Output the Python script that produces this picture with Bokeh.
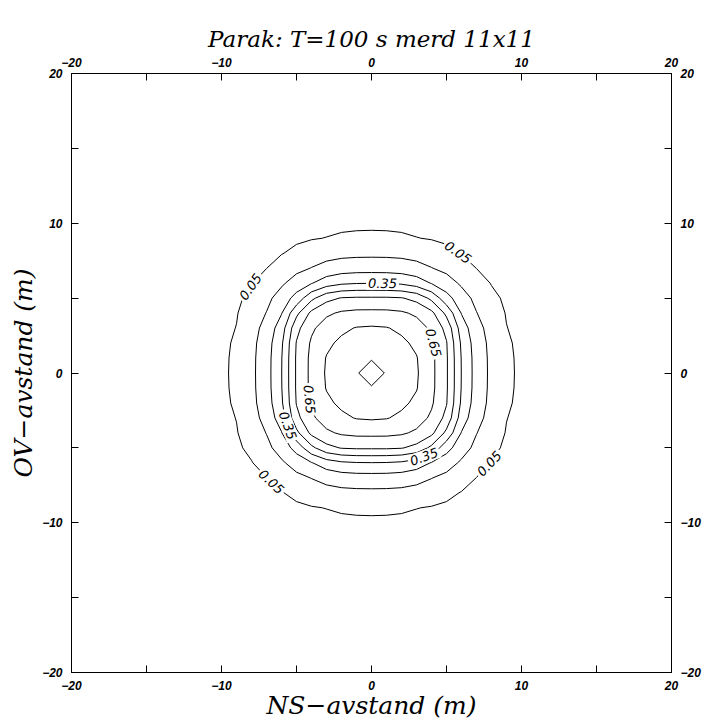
import numpy as np
from bokeh.plotting import figure
from bokeh.models import LinearAxis, FixedTicker, ColumnDataSource
from bokeh.core.properties import value
from bokeh.embed import file_html
from bokeh.resources import INLINE
from contourpy import contour_generator

# Grid coordinates (m) of the first quadrant, NS (x) and OV (y)
grid_ns = [0, 1, 2, 3, 4, 5, 6, 7, 8, 9, 10, 11, 12]
grid_ov = [0, 1, 2, 3, 4, 5, 6, 7, 8, 9, 10, 11, 12]

# Relative concentration in the first quadrant, one row per OV position;
# the field is symmetric about both axes
conc_quadrant = [
    [0.885, 0.844, 0.802, 0.761, 0.675, 0.563, 0.347, 0.210, 0.128, 0.068, 0.034, 0.010, 0.000],
    [0.844, 0.827, 0.793, 0.755, 0.674, 0.563, 0.345, 0.209, 0.127, 0.067, 0.033, 0.010, 0.000],
    [0.802, 0.793, 0.769, 0.731, 0.663, 0.556, 0.334, 0.202, 0.123, 0.062, 0.031, 0.008, 0.000],
    [0.761, 0.755, 0.731, 0.693, 0.634, 0.520, 0.302, 0.184, 0.112, 0.052, 0.028, 0.005, 0.000],
    [0.675, 0.674, 0.663, 0.634, 0.575, 0.425, 0.245, 0.153, 0.095, 0.045, 0.022, 0.000, 0.000],
    [0.563, 0.563, 0.556, 0.520, 0.425, 0.286, 0.193, 0.124, 0.070, 0.036, 0.015, 0.000, 0.000],
    [0.347, 0.345, 0.334, 0.302, 0.245, 0.193, 0.135, 0.089, 0.046, 0.026, 0.005, 0.000, 0.000],
    [0.210, 0.209, 0.202, 0.184, 0.153, 0.124, 0.089, 0.049, 0.032, 0.013, 0.000, 0.000, 0.000],
    [0.128, 0.127, 0.123, 0.112, 0.095, 0.070, 0.046, 0.032, 0.015, 0.000, 0.000, 0.000, 0.000],
    [0.068, 0.067, 0.062, 0.052, 0.045, 0.036, 0.026, 0.013, 0.000, 0.000, 0.000, 0.000, 0.000],
    [0.034, 0.033, 0.031, 0.028, 0.022, 0.015, 0.005, 0.000, 0.000, 0.000, 0.000, 0.000, 0.000],
    [0.010, 0.010, 0.008, 0.005, 0.000, 0.000, 0.000, 0.000, 0.000, 0.000, 0.000, 0.000, 0.000],
    [0.000, 0.000, 0.000, 0.000, 0.000, 0.000, 0.000, 0.000, 0.000, 0.000, 0.000, 0.000, 0.000],
]

levels = [0.05, 0.15, 0.25, 0.35, 0.45, 0.55, 0.65, 0.75, 0.85]
labelled_levels = [0.05, 0.05, 0.35, 0.65, 0.65, 0.35, 0.35, 0.05, 0.05]

axis_ticks = [-20, -10, 0, 10, 20]
axis_minor_ticks = [-15, -5, 5, 15]

# Where each contour label sits: bearing (deg) from the centre, measured on screen
label_bearing = [144.5, 54.4, 83, 26, -157, -148, -58, -37.6, -132.6]

# Full symmetric grid built from the quadrant
Q = np.array(conc_quadrant)
gx = np.array(grid_ns)
gy = np.array(grid_ov)
xs = np.concatenate([-gx[:0:-1], gx])
ys = np.concatenate([-gy[:0:-1], gy])
n = len(gx) - 1
Z = np.array([[Q[abs(j), abs(i)] for i in range(-n, n + 1)] for j in range(-n, n + 1)])

W, H = 707, 722
BL, BR, BT, BB = 71, 36, 73, 49
SX = (W - BL - BR) / 40.0
SY = (H - BT - BB) / 40.0

p = figure(width=W, height=H, x_range=(-20, 20), y_range=(-20, 20),
           output_backend="svg", toolbar_location=None,
           min_border_left=BL, min_border_right=BR, min_border_top=BT, min_border_bottom=BB,
           title="Parak: T=100 s merd 11x11",
           x_axis_label="NS\u2212avstand (m)", y_axis_label="OV\u2212avstand (m)")
p.grid.visible = False
p.outline_line_color = "black"
p.add_layout(LinearAxis(), "above")
p.add_layout(LinearAxis(), "right")
for ax in p.axis:
    ax.ticker = FixedTicker(ticks=axis_ticks, minor_ticks=axis_minor_ticks)
    ax.major_tick_in = 7
    ax.major_tick_out = 0
    ax.minor_tick_in = 7
    ax.minor_tick_out = 0
    ax.axis_line_color = "black"
    ax.major_tick_line_color = "black"
    ax.minor_tick_line_color = "black"
    ax.major_label_text_font = "Liberation Sans"
    ax.major_label_text_font_style = "bold italic"
    ax.major_label_text_font_size = "12px"
    ax.major_label_text_color = "black"
    ax.axis_label_text_font = "DejaVu Serif"
    ax.axis_label_text_font_style = "italic"
    ax.axis_label_text_font_size = "25px"
    ax.axis_label_text_color = "black"
p.below[0].major_label_standoff = 8
p.left[0].major_label_standoff = 9
p.above[0].major_label_standoff = 7
p.right[0].major_label_standoff = 9
p.below[0].axis_label_standoff = -2
p.left[0].axis_label_standoff = 1
p.title.align = "center"
p.title.standoff = 5
p.title.text_font = "DejaVu Serif"
p.title.text_font_style = "italic"
p.title.text_font_size = "23px"
p.title.text_color = "black"

p.contour(xs, ys, Z, levels, line_color="black", line_width=1)

# Place each label on its contour and turn it along the line
gen = contour_generator(xs, ys, Z)
lx, ly, la, lt = [], [], [], []
for lev, bearing in zip(labelled_levels, label_bearing):
    t = np.radians(bearing)
    best = None
    for seg in gen.lines(lev):
        P = np.column_stack([seg[:, 0] * SX, seg[:, 1] * SY])
        a = np.arctan2(P[:, 1], P[:, 0])
        for k in range(len(P) - 1):
            d0 = np.angle(np.exp(1j * (a[k] - t)))
            d1 = np.angle(np.exp(1j * (a[k + 1] - t)))
            if d0 * d1 <= 0 and abs(d0 - d1) < np.pi:
                w = d0 / (d0 - d1) if d0 != d1 else 0.0
                best = (P[k] + w * (P[k + 1] - P[k]), P[k + 1] - P[k])
                break
        if best:
            break
    pt, tan = best
    rot = np.arctan2(tan[1], tan[0])
    while rot >= np.pi / 2:
        rot -= np.pi
    while rot < -np.pi / 2:
        rot += np.pi
    lx.append(pt[0] / SX)
    ly.append(pt[1] / SY)
    la.append(rot)
    lt.append(f"{lev:.2f}")

src = ColumnDataSource(dict(x=lx, y=ly, text=lt, angle=la))
p.text(x="x", y="y", text="text", angle="angle", source=src,
       text_font=value("DejaVu Sans"), text_font_size="13px", text_font_style="italic",
       text_align="center", text_baseline="middle", text_color="black",
       background_fill_color="white", padding=2)

open("out.html", "w").write(file_html(p, INLINE))
